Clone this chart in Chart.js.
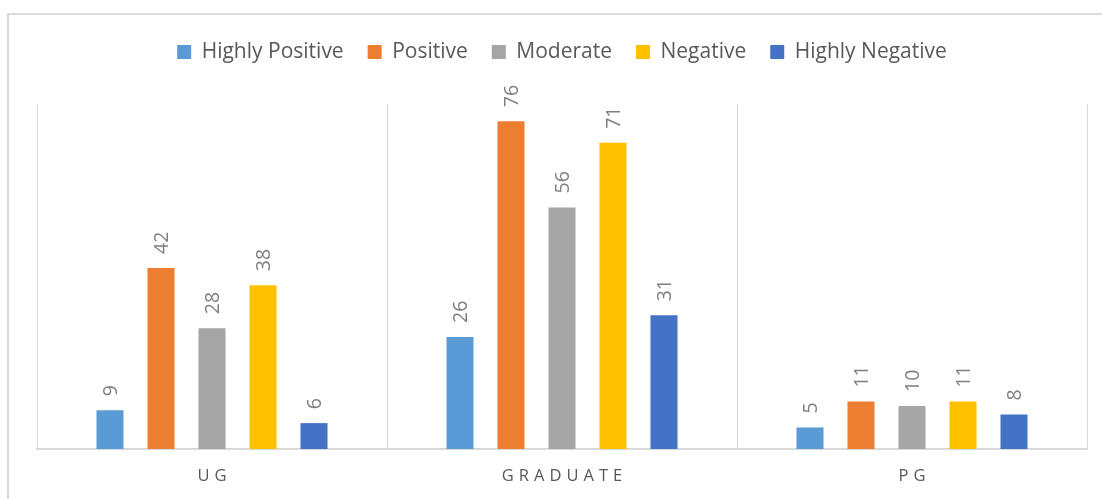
<!DOCTYPE html>
<html>
<head>
<meta charset="utf-8">
<script src="https://cdn.jsdelivr.net/npm/chart.js@4"></script>
<style>
  html, body { margin: 0; padding: 0; background: #fff; }
  #wrap { position: relative; width: 1102px; height: 499px; }
</style>
</head>
<body>
<div id="wrap"><canvas id="feedbackChart"></canvas></div>
<script>
// Responses by education level
const levels = ["UG", "GRADUATE", "PG"];
const highlyPositive = [9, 26, 5];
const positive = [42, 76, 11];
const moderate = [28, 56, 10];
const negative = [38, 71, 11];
const highlyNegative = [6, 31, 8];
const yMax = 80;

const GRID = "#d9d9d9";
const TEXT = "#595959";

// outer frame of the chart box
const framePlugin = {
  id: "frame",
  beforeDraw(chart) {
    const ctx = chart.ctx;
    ctx.save();
    ctx.strokeStyle = GRID;
    ctx.lineWidth = 2;
    ctx.beginPath();
    ctx.moveTo(8, chart.height + 2);
    ctx.lineTo(8, 14);
    ctx.lineTo(chart.width + 2, 14);
    ctx.stroke();
    ctx.restore();
  },
};

// extra room between legend and plot
const legendSpacer = {
  id: "legendSpacer",
  beforeInit(chart) {
    const fit = chart.legend.fit;
    chart.legend.fit = function () {
      fit.bind(chart.legend)();
      this.height += 31.5;
    };
  },
};

// rotated value labels above bars + spaced category labels
const labelsPlugin = {
  id: "valueLabels",
  afterDatasetsDraw(chart) {
    const ctx = chart.ctx;
    ctx.save();
    ctx.font = "19.5px 'Open Sans'";
    ctx.fillStyle = "#7f7f7f";
    ctx.textAlign = "left";
    ctx.textBaseline = "middle";
    chart.data.datasets.forEach((ds, i) => {
      chart.getDatasetMeta(i).data.forEach((bar, j) => {
        ctx.save();
        ctx.translate(bar.x + 1, bar.y - 14);
        ctx.rotate(-Math.PI / 2);
        ctx.fillText(String(ds.data[j]), 0, 0);
        ctx.restore();
      });
    });
    ctx.restore();

    const x = chart.scales.x;
    const spacing = 5;
    ctx.save();
    ctx.font = "16.5px 'Open Sans'";
    ctx.fillStyle = TEXT;
    ctx.textAlign = "center";
    ctx.textBaseline = "middle";
    ctx.letterSpacing = spacing + "px";
    levels.forEach((lbl, i) => {
      ctx.fillText(lbl, x.getPixelForValue(i) + spacing / 2, 476);
    });
    ctx.restore();
  },
};

function makeSet(label, data, color) {
  return {
    label: label,
    data: data,
    backgroundColor: color,
    borderWidth: 0,
    categoryPercentage: 0.7286,
    barPercentage: 0.53,
  };
}

const ctx = document.getElementById("feedbackChart").getContext("2d");
new Chart(ctx, {
  type: "bar",
  data: {
    labels: levels,
    datasets: [
      makeSet("Highly Positive", highlyPositive, "#5b9bd5"),
      makeSet("Positive", positive, "#ed7d31"),
      makeSet("Moderate", moderate, "#a5a5a5"),
      makeSet("Negative", negative, "#ffc000"),
      makeSet("Highly Negative", highlyNegative, "#4472c4"),
    ],
  },
  options: {
    responsive: true,
    maintainAspectRatio: false,
    animation: false,
    layout: { padding: { left: 37, right: 15, top: 17.5, bottom: 50 } },
    plugins: {
      legend: {
        position: "top",
        labels: {
          boxWidth: 14,
          boxHeight: 14,
          padding: 24,
          color: TEXT,
          font: { family: "'Open Sans'", size: 21 },
        },
      },
      tooltip: { enabled: false },
    },
    scales: {
      y: { display: false, min: 0, max: yMax },
      x: {
        grid: { color: GRID, lineWidth: 1, drawTicks: false, offset: true },
        border: { color: GRID, width: 2 },
        ticks: { display: false },
      },
    },
  },
  plugins: [framePlugin, legendSpacer, labelsPlugin],
});
</script>
</body>
</html>
